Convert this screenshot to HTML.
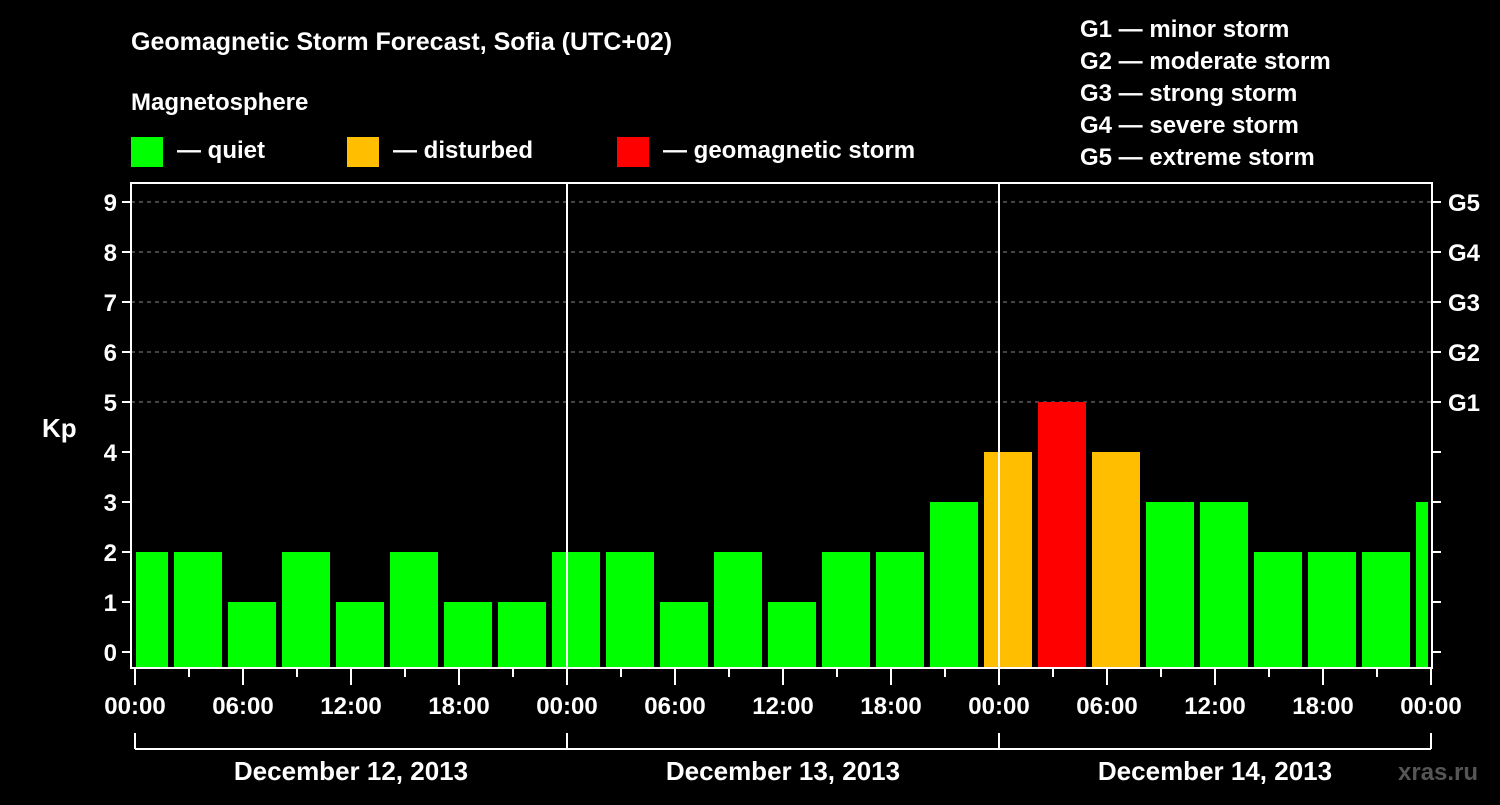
<!DOCTYPE html>
<html><head><meta charset="utf-8">
<style>
body{margin:0;background:#000;width:1500px;height:800px;overflow:hidden}
svg text{font-family:"Liberation Sans",Arial,sans-serif;font-weight:bold;fill:#fff}
</style></head>
<body>
<svg id="chart" width="1500" height="800" viewBox="0 0 1500 800" xmlns="http://www.w3.org/2000/svg">
<rect width="1500" height="800" fill="#000"/>
<text x="131" y="50" font-size="25">Geomagnetic Storm Forecast, Sofia (UTC+02)</text>
<text x="131" y="110" font-size="24">Magnetosphere</text>
<g>
<rect x="131" y="137" width="32" height="30" fill="#00ff00"/>
<text x="177" y="158" font-size="24">— quiet</text>
<rect x="347" y="137" width="32" height="30" fill="#ffbf00"/>
<text x="393" y="158" font-size="24">— disturbed</text>
<rect x="617" y="137" width="32" height="30" fill="#ff0000"/>
<text x="663" y="158" font-size="24">— geomagnetic storm</text>
</g>
<g font-size="24">
<text x="1080" y="37" font-size="24">G1 — minor storm</text>
<text x="1080" y="69" font-size="24">G2 — moderate storm</text>
<text x="1080" y="101" font-size="24">G3 — strong storm</text>
<text x="1080" y="133" font-size="24">G4 — severe storm</text>
<text x="1080" y="165" font-size="24">G5 — extreme storm</text>
</g>
<text x="42" y="437" font-size="26">Kp</text>
<text x="1398" y="780" font-size="24" style="fill:#555">xras.ru</text>
<defs><clipPath id="plotclip"><rect x="136" y="183" width="1292" height="486"/></clipPath></defs>
<g id="grid"></g>
<g id="bars" clip-path="url(#plotclip)"></g>
<g id="axes"></g>
</svg>
<script>
const kpValues=[2,2,1,2,1,2,1,1,2,2,1,2,1,2,2,3,4,5,4,3,3,2,2,2,3];
const yTicks=[0,1,2,3,4,5,6,7,8,9];
const gLabels=["G1","G2","G3","G4","G5"];
const gLevels=[5,6,7,8,9];
const xTickLabels=["00:00","06:00","12:00","18:00","00:00","06:00","12:00","18:00","00:00","06:00","12:00","18:00","00:00"];
const dayLabels=["December 12, 2013","December 13, 2013","December 14, 2013"];

const NS="http://www.w3.org/2000/svg";
const X0=135,PXH=18,Y0=652,PXK=50,TOP=183,BOT=668,LEFT=131,RIGHT=1432;
const x=h=>X0+h*PXH, y=v=>Y0-v*PXK;
function mk(tag,attrs,parent){const e=document.createElementNS(NS,tag);for(const k in attrs)e.setAttribute(k,attrs[k]);parent.appendChild(e);return e;}
const grid=document.getElementById('grid'),bars=document.getElementById('bars'),axes=document.getElementById('axes');

yTicks.forEach(v=>{
  if(v>=5){const l=mk('line',{x1:LEFT,x2:RIGHT,y1:y(v),y2:y(v),stroke:'#888','stroke-width':1,'stroke-dasharray':'4,4'},grid);
  
  }
  const t=mk('line',{x1:LEFT-9,x2:LEFT,y1:y(v),y2:y(v),stroke:'#fff','stroke-width':2},axes);
  
  
  const rt=mk('line',{x1:RIGHT,x2:RIGHT+9,y1:y(v),y2:y(v),stroke:'#fff','stroke-width':2},axes);
  
  
  const tx=mk('text',{x:LEFT-14,y:y(v)+9,'text-anchor':'end','font-size':24},axes);
  tx.textContent=v;
  
  
});
gLevels.forEach((v,i)=>{
  const tx=mk('text',{x:RIGHT+16,y:y(v)+9,'font-size':24},axes);
  tx.textContent=gLabels[i];
  
  
});
kpValues.forEach((v,k)=>{
  const c=v>=5?'#ff0000':(v>=4?'#ffbf00':'#00ff00');
  const x1=x(3*k-0.833),x2=x(3*k+1.833);
  const r=mk('rect',{x:x1,y:y(v),width:x2-x1,height:BOT-y(v),fill:c},bars);
  
  
});
// frame
const fr=mk('rect',{x:LEFT,y:TOP,width:RIGHT-LEFT,height:BOT-TOP,fill:'none',stroke:'#fff','stroke-width':2},axes);


[1,2].forEach(d=>{
  const l=mk('line',{x1:x(24*d),x2:x(24*d),y1:TOP,y2:BOT,stroke:'#fff','stroke-width':2},axes);
  
  
});
for(let h=0;h<=72;h+=3){
  const major=h%6===0;
  const l=mk('line',{x1:x(h),x2:x(h),y1:BOT,y2:BOT+(major?17:9),stroke:'#fff','stroke-width':2},axes);
  
  
}
xTickLabels.forEach((s,i)=>{
  const t=mk('text',{x:x(i*6),y:714,'text-anchor':'middle','font-size':24},axes);
  t.textContent=s;
  
  
});
for(let d=0;d<=3;d++){
  const l=mk('line',{x1:x(24*d),x2:x(24*d),y1:733,y2:749,stroke:'#fff','stroke-width':2},axes);
  
  
}
const bl=mk('line',{x1:x(0),x2:x(72),y1:749,y2:749,stroke:'#fff','stroke-width':2},axes);


dayLabels.forEach((s,i)=>{
  const t=mk('text',{x:x(24*i+12),y:780,'text-anchor':'middle','font-size':26},axes);
  t.textContent=s;
  
  
});
</script>
</body></html>
